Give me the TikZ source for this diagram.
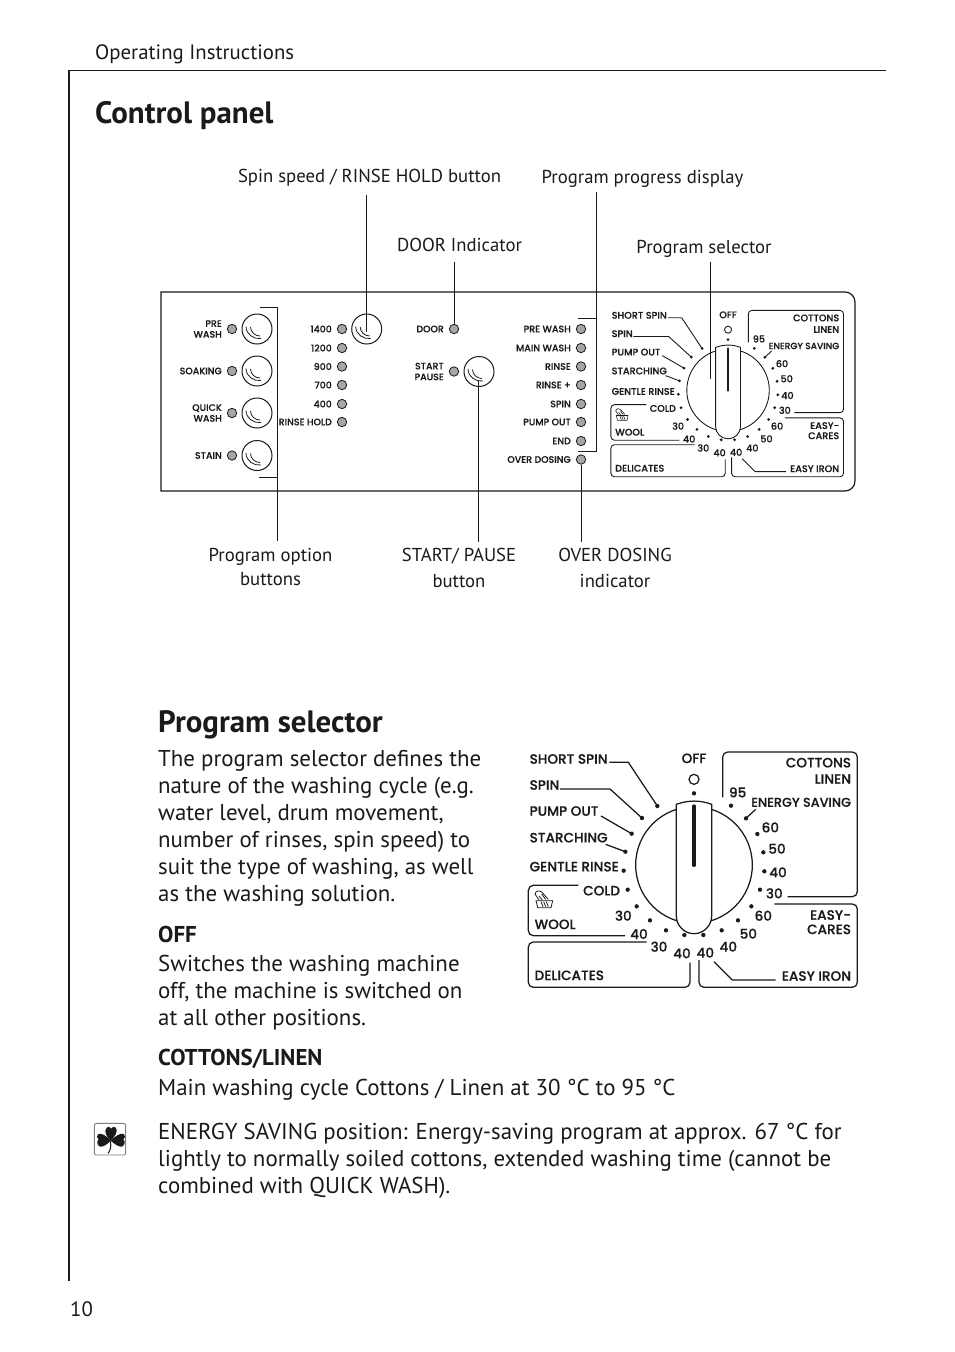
\documentclass[tikz,border=0pt]{standalone}
\usepackage{fontspec}
\setmainfont{PT Sans}
\newfontfamily\dialfont{Poppins}[UprightFont=* Medium,UprightFeatures={FakeBold=0.35}]
\definecolor{ink}{HTML}{1A1A1A}
\definecolor{ledgray}{HTML}{A6A6A6}
\newcounter{tnum}
\tikzset{
  bodytext/.style={anchor=base west,inner sep=0pt,text=ink,font=\fontsize{22.9}{27}\selectfont},
  smalltext/.style={anchor=base west,inner sep=0pt,text=ink,font=\fontsize{20.8}{24}\selectfont},
  calltext/.style={anchor=base,inner sep=0pt,text=ink,font=\fontsize{18.7}{24}\selectfont},
  leader/.style={draw=ink,line width=0.9pt},
  ledlamp/.style={circle,draw=ink,fill=ledgray,line width=0.8pt,minimum size=9.4pt,inner sep=0pt},
  panelbtn/.style={circle,draw=ink,fill=white,line width=1pt,minimum size=30pt,inner sep=0pt},
  paneltext/.style={inner sep=0pt,text=ink,align=right,font=\dialfont\fontsize{9.4}{10.8}\selectfont},
  dialtext/.style={inner sep=0pt,text=ink,transform shape,font=\dialfont\fontsize{13.6}{16}\selectfont},
}
\newcommand{\bodyl}[3]{\stepcounter{tnum}\node[bodytext] (b\thetnum) at (#1,#2) {#3};}
\newcommand{\btnmark}[1]{%
  \draw[line width=.8pt,draw=ink] ([shift={(-11,-2.5)}]#1.center) .. controls +(0,8) and +(-7,1) .. ([shift={(4,9.5)}]#1.center);
  \draw[line width=.8pt,draw=ink] ([shift={(-6.5,-2)}]#1.center) .. controls +(0,5) and +(-5,0) .. ([shift={(3,7)}]#1.center);}
\newcommand{\panelled}[4]{% name x y text
  \node[ledlamp] (#1) at (#2,#3) {};
  \node[paneltext,anchor=east] (#1t) at ([xshift=-10pt]#1.center) {#4};}
\newcommand{\dialface}[4]{% x y scale prefix
\begin{scope}[shift={(#1,#2)},scale=#3,x=.33333pt,y=-.33333pt,line width=#3*1.25pt,draw=ink]
  % frames
  \draw[rounded corners=#3*5pt] (623,172) -- (623,36) -- (1027,36) -- (1027,470) -- (818,470);
  \draw[rounded corners=#3*5pt] (778,492) -- (1027,492) -- (1027,742) -- (552,742) -- (552,660);
  \draw (597,665) -- (652,720) -- (782,720);
  \draw[rounded corners=#3*5pt] (395,606) -- (40,606) -- (40,742) -- (525,742) -- (525,668);
  \draw[rounded corners=#3*5pt] (190,436) -- (40,436) -- (40,587) -- (330,587);
  % leaders
  \draw (283,67) -- (340,67) -- (427,198);
  \draw (135,147) -- (285,147) -- (381,234);
  \draw (258,228) -- (350,281);
  \draw (272,313) -- (331,335);
  \draw (693,235) -- (722,208);
  % dots
  \foreach \px/\py in {537/160,427/198,381/234,350/281,331/335,326/392,338/449,365/499,405/541,453/571,508/585,565/585,620/571,669/541,709/499,735/449,748/394,745/337,727/282,693/235,648/197}
    \fill[ink] (\px,\py) circle [radius=6.5];
  \draw (537,118) circle [radius=15];
  % knob
  \draw (537,375) circle [radius=175];
  \draw[fill=white] (484,193) .. controls (520,180) and (555,180) .. (590,193) -- (590,528) .. controls (590,557) and (566,581) .. (537,581) .. controls (508,581) and (484,557) .. (484,528) -- cycle;
  \draw[line width=#3*3.3pt,line cap=round] (537,198) -- (537,376);
  % wool icon
  \begin{scope}[line width=#3*.8pt]
    \draw (63,482) -- (113,482) -- (108,503) -- (68,503) -- cycle;
    \draw (60,462) .. controls (62,452) and (72,450) .. (80,456) -- (100,478);
    \draw (60,462) -- (72,480);
    \draw (78,485) -- (84,500) (86,485) -- (92,500) (94,485) -- (100,500);
    \draw (72,468) -- (82,480) (80,462) -- (92,478);
  \end{scope}
  % texts
  \foreach \nm/\tx/\px/\py in {a/SHORT SPIN/42/57,b/SPIN/42/135,c/PUMP OUT/42/213,d/STARCHING/42/293,e/GENTLE RINSE/42/380,f/WOOL/57/553,g/DELICATES/57/706}
    \node[dialtext,anchor=west] (#4\nm) at (\px,\py) {\tx};
  \foreach \nm/\tx/\px/\py in {h/COLD/317/452,i/COTTONS/1010/68,j/LINEN/1010/117,l/EASY-/1010/525,m/CARES/1010/568,n/EASY IRON/1010/708}
    \node[dialtext,anchor=east] (#4\nm) at (\px,\py) {\tx};
  \node[dialtext,anchor=east,font=\dialfont\fontsize{12.8}{16}\selectfont] (#4k) at (1010,187) {ENERGY SAVING};
  \foreach \nm/\tx/\px/\py in {o/OFF/537/55,p/95/668/157,q/60/766/262,r/50/786/326,s/40/789/397,t/30/778/460,u/60/745/527,v/50/700/581,w/40/640/620,x/40/571/638,y/40/501/640,z/30/432/620,aa/40/372/582,ab/30/325/527}
    \node[dialtext] (#4\nm) at (\px,\py) {\tx};
\end{scope}}
\begin{document}
\begin{tikzpicture}[x=1pt,y=-1pt]
\useasboundingbox[fill=white] (0,0) rectangle (954,1352);
% page rules
\draw[ink,line width=2pt] (69,70) coordinate (ruleTL) -- (69,1281) coordinate (ruleBL);
\draw[ink,line width=1pt] (ruleTL) -- (886,70) coordinate (ruleTR);
\node[smalltext] (hdr) at (95,59) {Operating Instructions};
\node[smalltext] (pageno) at (70,1316) {10};
\node[bodytext,font=\bfseries\fontsize{30.9}{34}\selectfont] (h1) at (95,123) {Control panel};
\node[bodytext,font=\bfseries\fontsize{30.9}{34}\selectfont] (h2) at (158,732) {Program selector};
% panel
\draw[ink,line width=1.2pt,rounded corners=0pt] (161,292) -- (845,292) arc [start angle=-90,end angle=0,radius=10] -- (855,481) arc [start angle=0,end angle=90,radius=10] -- (161,491) -- cycle;
% left column
\panelled{lpre}{232}{329}{PRE\\WASH}
\panelled{lsoak}{232}{371}{SOAKING}
\panelled{lquick}{232}{413}{QUICK\\WASH}
\panelled{lstain}{232}{455.5}{STAIN}
\foreach \nm/\py in {bpre/329,bsoak/371,bquick/413,bstain/455.5}{
  \node[panelbtn] (\nm) at (257,\py) {};
  \btnmark{\nm}
}
% speed column
\panelled{s1}{342}{329}{1400}
\panelled{s2}{342}{348}{1200}
\panelled{s3}{342}{366.5}{900}
\panelled{s4}{342}{385}{700}
\panelled{s5}{342}{404}{400}
\panelled{s6}{342}{422}{RINSE HOLD}
\node[panelbtn] (bspin) at (366.7,329) {};
\btnmark{bspin}
% door
\panelled{door}{454}{329}{DOOR}
\panelled{start}{454}{371.5}{START\\PAUSE}
\node[panelbtn] (bstart) at (479,371.5) {};
\btnmark{bstart}
% progress column
\panelled{p1}{581}{329}{PRE WASH}
\panelled{p2}{581}{348}{MAIN WASH}
\panelled{p3}{581}{366.5}{RINSE}
\panelled{p4}{581}{385}{RINSE +}
\panelled{p5}{581}{404}{SPIN}
\panelled{p6}{581}{422}{PUMP OUT}
\panelled{p7}{581}{441}{END}
\panelled{p8}{581}{459.5}{OVER DOSING}
% dials
\dialface{601.5}{301.9}{.707}{pd}
\dialface{515}{740}{1}{sd}
% callouts
\node[calltext] (cSpin) at (369.5,182.5) {Spin speed / RINSE HOLD button};
\node[calltext] (cProg) at (642.5,183.5) {Program progress display};
\node[calltext] (cDoor) at (459.5,251.5) {DOOR Indicator};
\node[calltext] (cSel) at (704,253.5) {Program selector};
\node[calltext] (cOpt) at (270.5,561.5) {Program option};
\node[calltext] (cOpt2) at (270.5,585.5) {buttons};
\node[calltext] (cStart) at (459,561.5) {START/ PAUSE};
\node[calltext] (cStart2) at (459,587.5) {button};
\node[calltext] (cOver) at (615,561.5) {OVER DOSING};
\node[calltext] (cOver2) at (615,587.5) {indicator};
\coordinate (aSpinTop) at (366.5,195);
\coordinate (aSpinEnd) at (366.5,332);
\draw[leader] (aSpinTop) -- (aSpinEnd);
\coordinate (aDoorTop) at (454,262);
\draw[leader] (aDoorTop) -- (door.north);
\coordinate (aSelTop) at (710,262);
\coordinate (aSelEnd) at (710,379);
\draw[leader] (aSelTop) -- (aSelEnd);
\coordinate (aProgTop) at (596.5,192);
\coordinate (aProgA) at (596.5,318);
\coordinate (aProgB) at (596.5,451);
\coordinate (aProgC) at (578,318);
\coordinate (aProgD) at (578,451);
\draw[leader] (aProgTop) -- (aProgB) -- (aProgD);
\draw[leader] (aProgA) -- (aProgC);
\coordinate (aOptA) at (277,307.5);
\coordinate (aOptB) at (260,307.5);
\coordinate (aOptC) at (277,541);
\coordinate (aOptD) at (277,477);
\coordinate (aOptE) at (259,477);
\draw[leader] (aOptB) -- (aOptA) -- (aOptC);
\draw[leader] (aOptE) -- (aOptD);
\coordinate (aStartBot) at (478.5,542);
\coordinate (aStartTop) at (478.5,380);
\draw[leader] (aStartTop) -- (aStartBot);
\coordinate (aOverBot) at (581,542);
\draw[leader] (p8.south) -- (aOverBot);
% body text
\bodyl{158}{766}{The program selector defines the}
\bodyl{158}{793}{nature of the washing cycle (e.g.}
\bodyl{158}{820}{water level, drum movement,}
\bodyl{158}{847}{number of rinses, spin speed) to}
\bodyl{158}{874}{suit the type of washing, as well}
\bodyl{158}{901}{as the washing solution.}
\bodyl{158}{942}{\textbf{OFF}}
\bodyl{158}{971}{Switches the washing machine}
\bodyl{158}{998}{off, the machine is switched on}
\bodyl{158}{1025}{at all other positions.}
\bodyl{158}{1065}{\textbf{COTTONS/LINEN}}
\bodyl{158}{1095}{Main washing cycle Cottons / Linen at 30 °C to 95 °C}
\bodyl{158}{1139}{ENERGY SAVING position: Energy-saving program at approx. 67 °C for}
\bodyl{158}{1166}{lightly to normally soiled cottons, extended washing time (cannot be}
\bodyl{158}{1193}{combined with QUICK WASH).}
% clover
\begin{scope}[shift={(80,1110)},x=.33333pt,y=-.33333pt]
  \draw[draw=gray,line width=.9pt,rounded corners=1.5pt] (43,40) rectangle (137,135);
  \fill[ink] (92,92) .. controls (80,80) and (70,65) .. (80,53) .. controls (85,48) and (91,50) .. (93,56) .. controls (96,50) and (104,48) .. (108,53) .. controls (115,65) and (104,80) .. (92,92) -- cycle;
  \fill[ink] (92,92) .. controls (80,78) and (65,68) .. (55,72) .. controls (48,76) and (50,85) .. (56,88) .. controls (50,92) and (50,105) .. (60,110) .. controls (70,112) and (85,100) .. (92,92) -- cycle;
  \fill[ink] (92,92) .. controls (106,78) and (121,68) .. (131,72) .. controls (138,76) and (136,85) .. (130,88) .. controls (136,92) and (136,105) .. (126,110) .. controls (116,112) and (101,100) .. (92,92) -- cycle;
  \draw[ink,line width=1pt] (92,92) .. controls (93,110) and (92,122) .. (84,130);
\end{scope}
\end{tikzpicture}
\end{document}
